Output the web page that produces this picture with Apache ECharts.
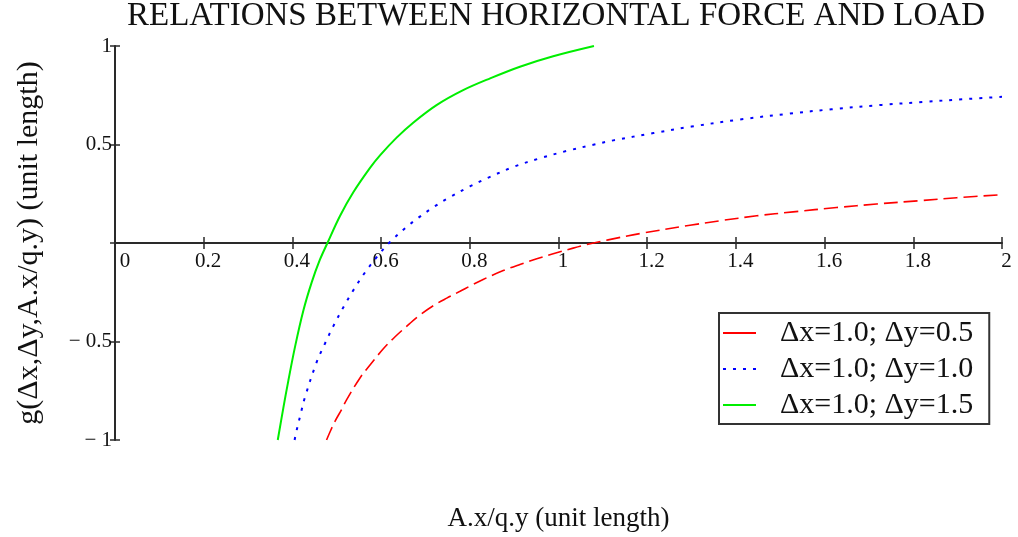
<!DOCTYPE html>
<html>
<head>
<meta charset="utf-8">
<script src="https://cdn.jsdelivr.net/npm/echarts@6/dist/echarts.min.js"></script>
<style>
  html, body { margin: 0; padding: 0; background: #ffffff; }
  #chart { width: 1018px; height: 537px; }
</style>
</head>
<body>
<div id="chart"></div>
<script>
// g(Δx, Δy, A.x/q.y) sampled along A.x/q.y for three load cases
const seriesNames = ['\u0394x=1.0; \u0394y=0.5', '\u0394x=1.0; \u0394y=1.0', '\u0394x=1.0; \u0394y=1.5'];

const redX = [0.477, 0.485, 0.496, 0.511, 0.5224, 0.5524, 0.575, 0.605, 0.631, 0.665, 0.688, 0.718, 0.748, 0.778, 0.800, 0.830, 0.8755, 0.913, 0.951, 0.988, 1.033, 1.0635, 1.112, 1.184, 1.2965, 1.364, 1.447, 1.529, 1.627, 1.717, 1.815, 1.898, 2.0];
const redY = [-1.0, -0.958, -0.905, -0.845, -0.795, -0.685, -0.619, -0.537, -0.477, -0.408, -0.365, -0.318, -0.280, -0.245, -0.219, -0.185, -0.140, -0.109, -0.080, -0.055, -0.026, -0.008, 0.016, 0.048, 0.090, 0.113, 0.138, 0.158, 0.180, 0.198, 0.215, 0.230, 0.245];

const blueX = [0.405, 0.408, 0.4186, 0.428, 0.4547, 0.4735, 0.492, 0.515, 0.536, 0.562, 0.590, 0.620, 0.654, 0.684, 0.718, 0.7515, 0.800, 0.842, 0.898, 0.958, 1.018, 1.0785, 1.1236, 1.214, 1.300, 1.409, 1.522, 1.616, 1.729, 1.823, 1.913, 2.0];
const blueY = [-1.0, -0.966, -0.868, -0.785, -0.605, -0.510, -0.423, -0.326, -0.245, -0.155, -0.072, 0.005, 0.075, 0.128, 0.182, 0.228, 0.287, 0.332, 0.386, 0.430, 0.467, 0.499, 0.521, 0.558, 0.591, 0.627, 0.657, 0.679, 0.701, 0.716, 0.730, 0.742];

const greenX = [0.367, 0.3795, 0.391, 0.406, 0.4246, 0.4435, 0.462, 0.479, 0.507, 0.537, 0.575, 0.598, 0.635, 0.673, 0.725, 0.785, 0.846, 0.913, 0.988, 1.08];
const greenY = [-1.0, -0.838, -0.697, -0.526, -0.344, -0.200, -0.085, 0.0, 0.136, 0.256, 0.381, 0.446, 0.535, 0.612, 0.700, 0.776, 0.836, 0.895, 0.948, 1.0];

// axis ticks and their printed labels
const xMin = 0, xMax = 2, xStep = 0.2;
const yMin = -1, yMax = 1, yStep = 0.5;
const yTickValues = [-1, -0.5, 0, 0.5, 1];
const yTickText = ['\u2212 1', '\u2212 0.5', '', '0.5', '1'];

const pairs = (xs, ys) => xs.map((x, i) => [x, ys[i]]);

const serif = '"Liberation Serif", "Times New Roman", serif';
const axisColor = '#2a2a2a';
const textColor = '#111';
const tickStyle = { color: axisColor, width: 1.5 };

// plot area and the strip that carries the horizontal axis through y = 0
const plotLeft = 115, plotRight = 16, plotTop = 46, plotBottom = 97;
const zeroLineY = 243;

const chart = echarts.init(document.getElementById('chart'), null, { renderer: 'canvas' });

chart.setOption({
  animation: false,
  backgroundColor: '#ffffff',
  title: {
    text: 'RELATIONS BETWEEN HORIZONTAL FORCE AND LOAD',
    left: 556,
    top: 0,
    padding: 0,
    textAlign: 'center',
    textStyle: { fontFamily: serif, fontSize: 33, fontWeight: 'normal', color: textColor }
  },
  grid: [
    { left: plotLeft, right: plotRight, top: plotTop, bottom: plotBottom, containLabel: false, outerBoundsMode: 'none' },
    { left: plotLeft, right: plotRight, top: zeroLineY - 1, height: 1, containLabel: false, outerBoundsMode: 'none' }
  ],
  legend: {
    orient: 'vertical',
    left: 719,
    top: 313,
    padding: [5, 16, 4, 3],
    itemWidth: 33,
    itemHeight: 14,
    itemGap: 6,
    borderColor: '#333',
    borderWidth: 2,
    backgroundColor: '#ffffff',
    itemStyle: { opacity: 0 },
    textStyle: { fontFamily: serif, fontSize: 30, color: textColor, padding: [0, 0, 0, 19] },
    data: [
      { name: seriesNames[0], lineStyle: { type: 'solid' } },
      { name: seriesNames[1] },
      { name: seriesNames[2] }
    ]
  },
  xAxis: [
    {
      // scale for the curves
      gridIndex: 0, type: 'value', min: xMin, max: xMax, interval: xStep, show: false
    },
    {
      gridIndex: 1, type: 'value', min: xMin, max: xMax, interval: xStep, position: 'bottom',
      axisLine: { show: true, onZero: false, lineStyle: { color: axisColor, width: 2 } },
      axisTick: { show: true, inside: false, length: 6, lineStyle: tickStyle },
      axisLabel: {
        show: true, margin: 8, color: textColor, fontFamily: serif, fontSize: 21,
        formatter: v => (v === 0 ? '{z|0}' : '{n|' + (+v.toFixed(1)) + '}'),
        rich: {
          z: { fontFamily: serif, fontSize: 21, color: textColor, padding: [0, 0, 0, 20] },
          n: { fontFamily: serif, fontSize: 21, color: textColor, padding: [0, 0, 0, 9] }
        }
      },
      splitLine: { show: false },
      name: 'A.x/q.y (unit length)',
      nameLocation: 'middle',
      nameGap: 262,
      nameTextStyle: { fontFamily: serif, fontSize: 27, color: textColor }
    },
    {
      gridIndex: 1, type: 'value', min: xMin, max: xMax, interval: xStep, position: 'bottom',
      axisLine: { show: false, onZero: false },
      axisTick: { show: true, inside: true, length: 6, lineStyle: tickStyle },
      axisLabel: { show: false },
      splitLine: { show: false }
    }
  ],
  yAxis: [
    {
      gridIndex: 0, type: 'value', min: yMin, max: yMax, interval: yStep, position: 'left',
      axisLine: { show: true, onZero: false, lineStyle: { color: axisColor, width: 2 } },
      axisTick: { show: true, inside: false, length: 5, lineStyle: tickStyle },
      axisLabel: {
        show: true, margin: 3, color: textColor, fontFamily: serif, fontSize: 21,
        formatter: v => {
          const i = yTickValues.findIndex(t => Math.abs(t - v) < 1e-9);
          return i >= 0 ? yTickText[i] : '';
        }
      },
      splitLine: { show: false },
      name: 'g(\u0394x,\u0394y,A.x/q.y) (unit length)',
      nameLocation: 'middle',
      nameRotate: 90,
      nameGap: 71,
      nameTextStyle: { fontFamily: serif, fontSize: 30, color: textColor }
    },
    {
      gridIndex: 0, type: 'value', min: yMin, max: yMax, interval: yStep, position: 'left',
      axisLine: { show: false, onZero: false },
      axisTick: { show: true, inside: true, length: 5, lineStyle: tickStyle },
      axisLabel: { show: false },
      splitLine: { show: false }
    },
    {
      gridIndex: 1, type: 'value', min: 0, max: 1, show: false
    }
  ],
  series: [
    {
      name: seriesNames[0], type: 'line', xAxisIndex: 0, yAxisIndex: 0,
      data: pairs(redX, redY), symbol: 'none', smooth: 0.35, clip: true,
      itemStyle: { color: '#ff0000' },
      lineStyle: { color: '#ff0000', width: 1.6, type: [14, 6] }
    },
    {
      name: seriesNames[1], type: 'line', xAxisIndex: 0, yAxisIndex: 0,
      data: pairs(blueX, blueY), symbol: 'none', smooth: 0.35, clip: true,
      itemStyle: { color: '#0000ff' },
      lineStyle: { color: '#0000ff', width: 2, type: [3, 7] }
    },
    {
      name: seriesNames[2], type: 'line', xAxisIndex: 0, yAxisIndex: 0,
      data: pairs(greenX, greenY), symbol: 'none', smooth: 0.35, clip: true,
      itemStyle: { color: '#00ee00' },
      lineStyle: { color: '#00ee00', width: 2, type: 'solid' }
    }
  ]
});
</script>
</body>
</html>
